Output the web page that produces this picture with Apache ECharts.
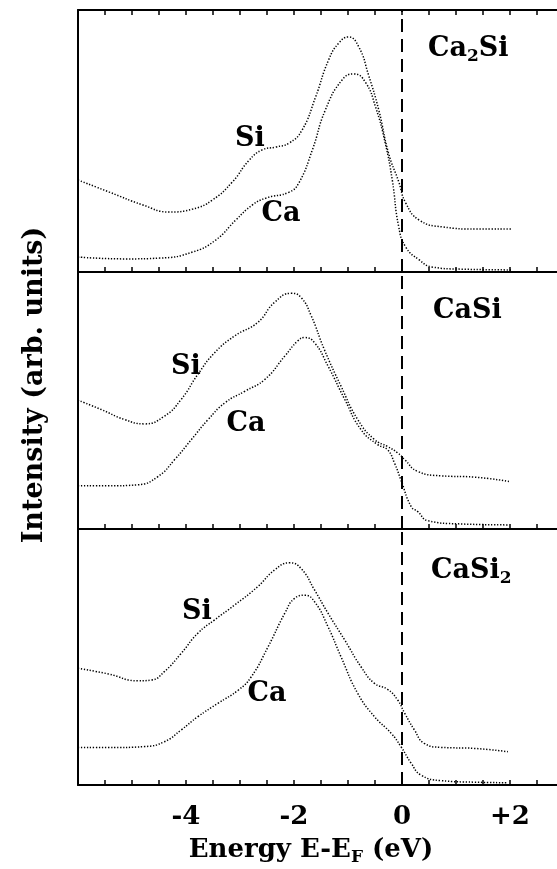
<!DOCTYPE html>
<html><head><meta charset="utf-8">
<script src="https://cdn.jsdelivr.net/npm/echarts@6/dist/echarts.min.js"></script>
<style>html,body{margin:0;padding:0;background:#fff}#c{width:557px;height:869px}</style>
</head><body><div id="c"></div>
<script>
// Energy E-E_F (eV) vs intensity (arb. units, 0-100 per panel)
const tickValues = [-4, -2, 0, 2];
const tickLabels = ['-4', '-2', '0', '+2'];
const panelNames = ['Ca2Si', 'CaSi', 'CaSi2'];

const ca2siSi = [[-6,35.1],[-5.42,30.5],[-4.8,25.6],[-4.31,22.9],[-3.88,24.0],[-3.51,27.5],[-3.14,34.4],[-2.83,42.7],[-2.59,46.6],[-2.34,47.7],[-2.09,49.2],[-1.85,54.2],[-1.6,66.8],[-1.36,80.9],[-1.17,87.4],[-0.99,89.7],[-0.8,85.9],[-0.62,75.2],[-0.43,61.8],[-0.25,45.4],[-0.06,34.4],[0.07,26.3],[0.32,19.8],[0.75,17.2],[1.37,16.4],[2.02,16.4]];
const ca2siCa = [[-6,5.7],[-5.11,5.0],[-4.49,5.3],[-3.88,7.6],[-3.45,12.2],[-3.08,19.8],[-2.77,25.6],[-2.52,28.2],[-2.09,30.5],[-1.91,34.0],[-1.66,46.6],[-1.42,61.8],[-1.11,73.3],[-0.89,75.6],[-0.68,72.5],[-0.49,63.0],[-0.31,49.2],[-0.18,35.1],[-0.06,17.2],[0.07,9.5],[0.32,4.6],[0.56,1.9],[1.06,1.1],[2.05,0.8]];
const casiSi = [[-6,50.1],[-5.57,46.5],[-5.14,42.6],[-4.77,40.9],[-4.4,43.9],[-4.09,50.4],[-3.78,60.2],[-3.47,68.6],[-3.1,75.1],[-2.67,80.4],[-2.36,88.2],[-2.05,91.7],[-1.87,90.1],[-1.68,82.9],[-1.44,69.9],[-1.13,55.6],[-0.82,42.6],[-0.51,34.8],[-0.27,32.1],[-0.08,29.6],[0.05,27.0],[0.29,22.4],[0.72,20.7],[1.34,20.2],[1.98,18.5]];
const casiCa = [[-6,16.8],[-5.44,16.8],[-4.89,17.2],[-4.52,20.4],[-4.21,27.0],[-3.9,34.8],[-3.59,42.6],[-3.28,49.1],[-2.91,53.6],[-2.54,58.2],[-2.17,67.3],[-1.93,73.2],[-1.8,74.5],[-1.62,72.5],[-1.37,63.4],[-1.06,50.4],[-0.76,38.7],[-0.45,32.8],[-0.27,30.9],[-0.14,25.7],[-0.02,19.1],[0.17,8.7],[0.29,6.8],[0.48,3.2],[1.04,2.0],[1.96,1.6]];
const casi2Si = [[-6,45.6],[-5.44,43.4],[-4.89,40.7],[-4.64,41.0],[-4.4,44.3],[-4.09,51.4],[-3.78,59.3],[-3.47,64.5],[-3.1,70.3],[-2.67,77.5],[-2.36,84.0],[-2.08,86.8],[-1.87,84.6],[-1.62,76.2],[-1.37,67.1],[-1.06,56.6],[-0.76,46.2],[-0.51,39.7],[-0.27,37.4],[-0.08,33.2],[0.05,28.0],[0.23,21.5],[0.41,16.3],[0.72,14.7],[1.34,14.3],[1.96,13.0]];
const casi2Ca = [[-6,14.7],[-5.44,14.6],[-4.77,15.0],[-4.4,16.9],[-4.09,21.5],[-3.78,26.7],[-3.41,31.9],[-3.03,37.1],[-2.79,42.3],[-2.48,54.0],[-2.17,67.1],[-1.99,72.9],[-1.8,74.1],[-1.62,71.6],[-1.37,61.8],[-1.13,50.1],[-0.82,35.8],[-0.51,26.7],[-0.2,20.2],[-0.02,15.0],[0.17,8.5],[0.35,3.9],[0.72,1.7],[1.34,1.1],[1.96,0.9]];

const panels = [[ca2siSi, ca2siCa], [casiSi, casiCa], [casi2Si, casi2Ca]];

const FONT = '"DejaVu Serif", serif';
const grids = [
  {left: 78, width: 486, top: 10, height: 262},
  {left: 78, width: 486, top: 272, height: 257},
  {left: 78, width: 486, top: 529, height: 256}
];
grids.forEach(g => { g.containLabel = false; g.outerBoundsMode = 'none'; });

function xAx(i, pos) {
  return {
    gridIndex: i, type: 'value', min: -6, max: 3, interval: 0.5, position: pos,
    axisLine: {show: true, onZero: false, lineStyle: {color: '#000', width: 2}},
    axisTick: {show: true, inside: true, length: 5, lineStyle: {color: '#000', width: 1.5}},
    splitLine: {show: false},
    axisLabel: (i === 2 && pos === 'bottom') ? {
      show: true, margin: 19, color: '#000', fontFamily: FONT, fontWeight: 'bold', fontSize: 26,
      formatter: v => { const k = tickValues.findIndex(t => Math.abs(t - v) < 1e-6); return k >= 0 ? tickLabels[k] : ''; }
    } : {show: false}
  };
}
const xAxis = [xAx(0, 'bottom'), xAx(1, 'bottom'), xAx(2, 'bottom'), xAx(0, 'top')];
const yAxis = [0, 1, 2].map(i => ({
  gridIndex: i, type: 'value', min: 0, max: 100,
  axisLine: {show: true, onZero: false, lineStyle: {color: '#000', width: 2}},
  axisTick: {show: false}, axisLabel: {show: false}, splitLine: {show: false}
}));

const series = [];
panels.forEach((p, i) => {
  p.forEach((d, j) => {
    const s = {
      type: 'line', xAxisIndex: i, yAxisIndex: i, data: d, smooth: 0.5, symbol: 'none',
      lineStyle: {color: '#000', width: 1.5, type: [1.3, 1.7]}
    };
    if (j === 0) {
      s.markLine = {silent: true, symbol: ['none', 'none'], label: {show: false},
        lineStyle: {color: '#000', width: 2, type: [13, 7]}, data: [{xAxis: 0}]};
    }
    series.push(s);
  });
});

const big = {fontFamily: FONT, fontWeight: 'bold', fontSize: 27, lineHeight: 32, verticalAlign: 'middle', fill: '#000', color: '#000'};
const sub = {fontFamily: FONT, fontWeight: 'bold', fontSize: 17, lineHeight: 16, verticalAlign: 'bottom', fill: '#000', color: '#000'};
const mid = {fontFamily: FONT, fontWeight: 'bold', fontSize: 26, lineHeight: 32, verticalAlign: 'middle', fill: '#000', color: '#000'};
function rt(text, x, y, align) {
  return {type: 'text', x: x, y: y, style: {text: text, align: align || 'center', verticalAlign: 'middle', rich: {a: big, s: sub, m: mid}, fill: '#000'}};
}
const graphic = [
  rt('{a|Ca}{s|2}{a|Si}', 428, 49, 'left'),
  rt('{a|Si}', 250, 139), rt('{a|Ca}', 281, 214),
  rt('{a|CaSi}', 433, 311, 'left'),
  rt('{a|Si}', 186, 367), rt('{a|Ca}', 246, 424),
  rt('{a|CaSi}{s|2}', 431, 571, 'left'),
  rt('{a|Si}', 197, 612), rt('{a|Ca}', 267, 694),
  rt('{m|Energy E-E}{s|F}{m| (eV)}', 311, 850),
  {type: 'text', x: 35, y: 385, rotation: Math.PI / 2,
   style: {text: 'Intensity (arb. units)', align: 'center', verticalAlign: 'middle', fill: '#000',
     font: 'bold 27px "DejaVu Serif", serif'}}
];

const chart = echarts.init(document.getElementById('c'));
chart.setOption({animation: false, backgroundColor: '#fff', grid: grids, xAxis: xAxis, yAxis: yAxis, series: series, graphic: graphic});
</script></body></html>
